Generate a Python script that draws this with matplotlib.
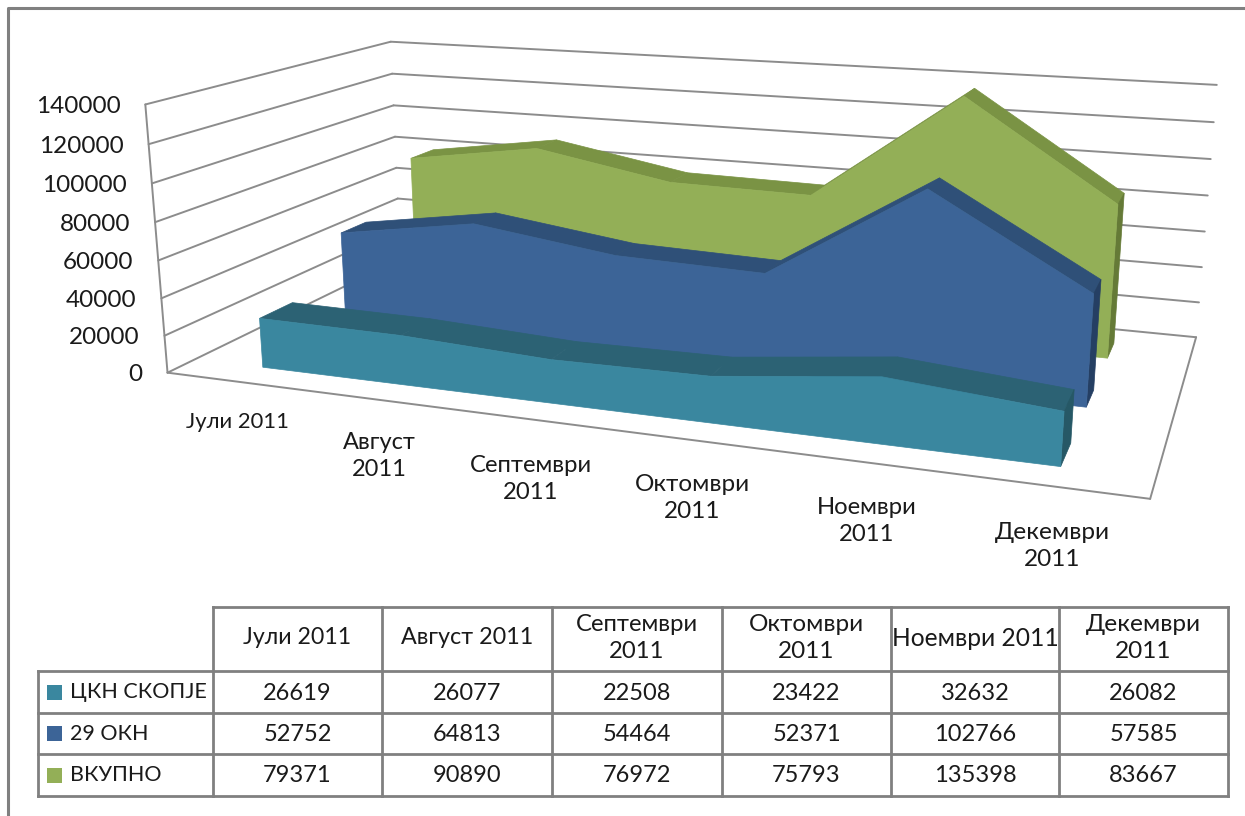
import numpy as np
import matplotlib
matplotlib.use('Agg')
import matplotlib.pyplot as plt

# Values from the data table under the chart
months = ['Јули 2011', 'Август 2011', 'Септември 2011', 'Октомври 2011', 'Ноември 2011', 'Декември 2011']
series_names = ['ЦКН СКОПЈЕ', '29 ОКН', 'ВКУПНО']
ckn = [26619, 26077, 22508, 23422, 32632, 26082]
okn = [52752, 64813, 54464, 52371, 102766, 57585]
total = [79371, 90890, 76972, 75793, 135398, 83667]
y_ticks = [0, 20000, 40000, 60000, 80000, 100000, 120000, 140000]

plt.rcParams['font.family'] = ['Lato', 'Open Sans', 'DejaVu Sans']

# Box corners in the picture, used to fit the perspective of the 3D chart
world = [(0, 0, 0), (0, 0, 1), (0, 1, 1), (1, 1, 1), (1, 1, 0), (1, 0, 0), (0, 1, 0)]
pixel = [(167, 373), (146, 104), (390, 42), (1217, 85), (1196, 337), (1150, 499), (401, 259)]

rows = []
for (X, Y, Z), (u, v) in zip(world, pixel):
    rows.append([X, Y, Z, 1, 0, 0, 0, 0, -u * X, -u * Y, -u * Z, -u])
    rows.append([0, 0, 0, 0, X, Y, Z, 1, -v * X, -v * Y, -v * Z, -v])
P = np.linalg.svd(np.array(rows, float))[2][-1].reshape(3, 4)


def project(x, y, z):
    q = P @ np.array([x, y, z, 1.0])
    return q[0] / q[2], q[1] / q[2]


fig = plt.figure(figsize=(12.45, 8.16), dpi=100)
ax = fig.add_axes([0, 0, 1, 1])
ax.set_xlim(0, 1245)
ax.set_ylim(816, 0)
ax.axis('off')

grid_color = '#8c8c8c'
frame_color = '#808080'
text_color = '#1a1a1a'


def line3d(a, b):
    pa, pb = project(*a), project(*b)
    ax.plot([pa[0], pb[0]], [pa[1], pb[1]], color=grid_color, lw=1.4, solid_capstyle='round', zorder=1)


# outer frame of the chart, only top and left show
ax.plot([8, 8, 1245], [816, 8, 8], color=frame_color, lw=2.2, zorder=1)

for t in y_ticks:
    z = t / y_ticks[-1]
    line3d((0, 0, z), (0, 1, z))
    line3d((0, 1, z), (1, 1, z))
line3d((0, 0, 0), (0, 0, 1))
line3d((0, 0, 0), (1, 0, 0))
line3d((1, 0, 0), (1, 1, 0))

# y tick labels follow the slanted front edge
for t in y_ticks:
    px, py = project(0, 0, t / y_ticks[-1])
    ax.text(px - 25, py + 2, str(t), ha='right', va='center', fontsize=17.5, color=text_color)

# category labels wrapped as in the chart
cat_lines = [['Јули 2011'], ['Август', '2011'], ['Септември', '2011'], ['Октомври', '2011'], ['Ноември', '2011'], ['Декември', '2011']]
cat_xs = [238, 379, 531, 692, 867, 1052]
cat_ys = [422, 456, 479, 498, 521, 546]
cat_sizes = [15.8, 17, 17.2, 17.5, 17.2, 17.6]
for lines, cx, cy, fs in zip(cat_lines, cat_xs, cat_ys, cat_sizes):
    ax.text(cx, cy, '\n'.join(lines), ha='center', va='center', fontsize=fs, color=text_color, linespacing=1.35)

# series drawn back to front: values, depth front, depth back, front, top, side colours
x_pos = [(i + 0.5) / 6 for i in range(6)]
layers = [
    (total, 0.777, 0.891, '#93af57', '#7a9344', '#657a37'),
    (okn, 0.441, 0.552, '#3c6497', '#2f5078', '#253f63'),
    (ckn, 0.100, 0.227, '#3a879f', '#2c6274', '#265866'),
]
for vals, d0, d1, front, top, side in layers:
    zs = [v / y_ticks[-1] for v in vals]
    for i in range(5):
        quad = [project(x_pos[i], d0, zs[i]), project(x_pos[i + 1], d0, zs[i + 1]),
                project(x_pos[i + 1], d1, zs[i + 1]), project(x_pos[i], d1, zs[i])]
        ax.fill(*zip(*quad), color=top, lw=0.5, zorder=2)
    quad = [project(x_pos[-1], d0, zs[-1]), project(x_pos[-1], d1, zs[-1]),
            project(x_pos[-1], d1, 0), project(x_pos[-1], d0, 0)]
    ax.fill(*zip(*quad), color=side, lw=0.5, zorder=2)
    outline = [project(x, d0, z) for x, z in zip(x_pos, zs)]
    outline += [project(x_pos[-1], d0, 0), project(x_pos[0], d0, 0)]
    ax.fill(*zip(*outline), color=front, lw=0.5, zorder=2)

# data table with legend keys
col_edges = [213, 382, 552, 722, 891, 1059, 1228]
row_edges = [607, 671, 713, 754, 796]
table_left = 38
table_lines = dict(color=frame_color, lw=2.0, solid_capstyle='projecting', zorder=1)
ax.plot([col_edges[0], col_edges[-1]], [row_edges[0], row_edges[0]], **table_lines)
for y in row_edges[1:]:
    ax.plot([table_left, col_edges[-1]], [y, y], **table_lines)
ax.plot([table_left, table_left], [row_edges[1], row_edges[-1]], **table_lines)
for x in col_edges:
    ax.plot([x, x], [row_edges[0], row_edges[-1]], **table_lines)

header_lines = [['Јули 2011'], ['Август 2011'], ['Септември', '2011'], ['Октомври', '2011'], ['Ноември 2011'], ['Декември', '2011']]
header_sizes = [16.7, 16.8, 17.2, 17.5, 17.7, 17.6]
for j, (lines, fs) in enumerate(zip(header_lines, header_sizes)):
    ax.text((col_edges[j] + col_edges[j + 1]) / 2, 638, '\n'.join(lines), ha='center', va='center',
            fontsize=fs, color=text_color, linespacing=1.38)

table_rows = [ckn, okn, total]
key_colors = ['#3a879f', '#3c6497', '#93af57']
for r, (name, vals, key) in enumerate(zip(series_names, table_rows, key_colors)):
    yc = (row_edges[r + 1] + row_edges[r + 2]) / 2
    ax.fill_between([47, 62], yc - 7.5, yc + 7.5, color=key, lw=0, zorder=2)
    ax.text(70, yc, name, ha='left', va='center', fontsize=15.5, color=text_color)
    for j, v in enumerate(vals):
        ax.text((col_edges[j] + col_edges[j + 1]) / 2, yc + 1, str(v), ha='center', va='center',
                fontsize=17, color=text_color)

fig.savefig('out.png', dpi=100)
